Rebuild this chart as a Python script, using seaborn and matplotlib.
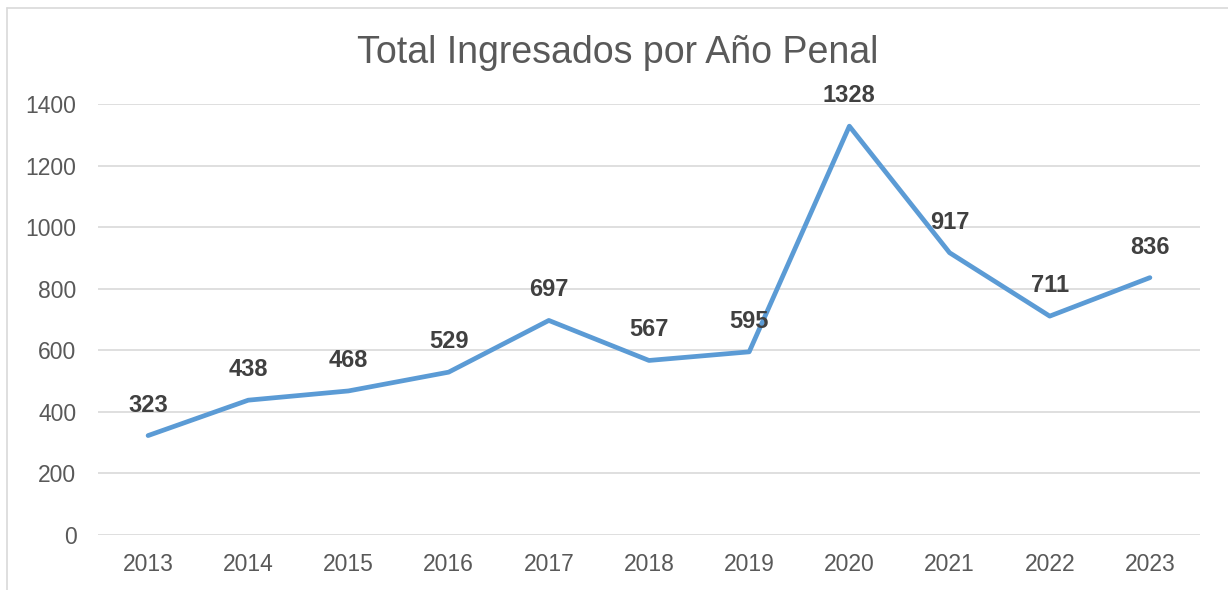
import numpy as np
import pandas as pd
import matplotlib
matplotlib.use("Agg")
import matplotlib.pyplot as plt
import seaborn as sns
from matplotlib.lines import Line2D

years = ["2013", "2014", "2015", "2016", "2017", "2018", "2019", "2020", "2021", "2022", "2023"]
ingresados = [323, 438, 468, 529, 697, 567, 595, 1328, 917, 711, 836]
y_ticks = [0, 200, 400, 600, 800, 1000, 1200, 1400]

df = pd.DataFrame({"anio": years, "total": ingresados})

sns.set_theme(style="white")
plt.rcParams["font.family"] = ["Liberation Sans", "DejaVu Sans"]

fig = plt.figure(figsize=(12.28, 5.90), dpi=100)
ax = fig.add_axes([0.0798, 0.0932, 0.8974, 0.7305])

sns.lineplot(data=df, x="anio", y="total", ax=ax, color="#5B9BD5", linewidth=3.4, sort=False)

for i, v in enumerate(ingresados):
    ax.annotate(str(v), (i, v), xytext=(0, 22), textcoords="offset points",
                ha="center", va="center", fontsize=17, fontweight="bold", color="#404040")

ax.set_xlim(-0.5, len(years) - 0.5)
ax.set_ylim(0, 1400)
ax.set_yticks(y_ticks)
ax.yaxis.grid(True, color="#D9D9D9", linewidth=1.2)
ax.xaxis.grid(False)
for s in ax.spines.values():
    s.set_visible(False)
ax.tick_params(axis="both", length=0, labelsize=16.5, labelcolor="#595959")
ax.tick_params(axis="x", pad=13)
ax.tick_params(axis="y", pad=15.5)
ax.set_xlabel("")
ax.set_ylabel("")

fig.text(0.503, 0.91, "Total Ingresados por Año Penal", ha="center", va="center",
         fontsize=27, color="#595959")

# chart border (only left and top are visible in the crop)
fig.add_artist(Line2D([0.0057, 0.0057], [0, 0.987], transform=fig.transFigure, color="#D9D9D9", linewidth=1.2))
fig.add_artist(Line2D([0.0057, 1.0], [0.987, 0.987], transform=fig.transFigure, color="#D9D9D9", linewidth=1.2))

fig.savefig("out.png", dpi=100)
